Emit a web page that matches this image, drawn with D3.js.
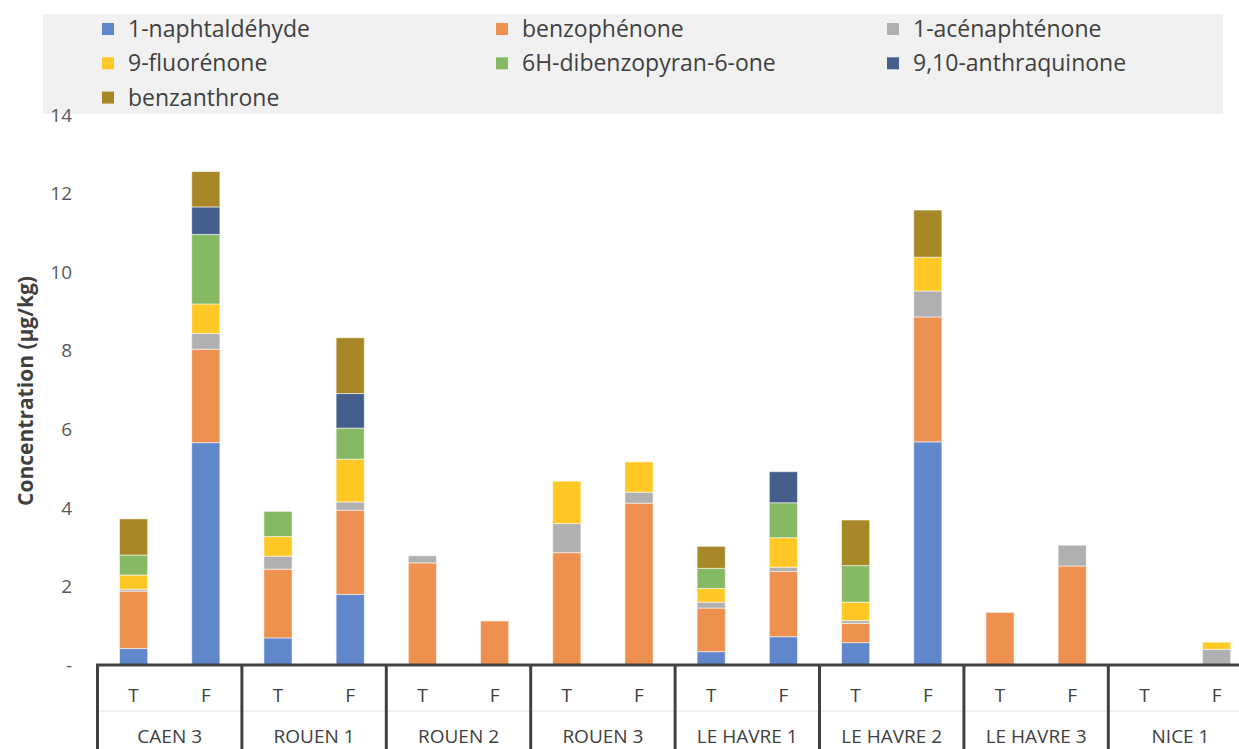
<!DOCTYPE html>
<html><head><meta charset="utf-8">
<script src="https://cdn.jsdelivr.net/npm/d3@7"></script>
<style>body{margin:0;background:#fff}svg{display:block}</style>
</head><body>
<svg id="chart" width="1239" height="749"></svg>
<script>
const groups = ["CAEN 3","ROUEN 1","ROUEN 2","ROUEN 3","LE HAVRE 1","LE HAVRE 2","LE HAVRE 3","NICE 1"];
const types = ["T","F"];
const seriesNames = ["1-naphtaldéhyde","benzophénone","1-acénaphténone","9-fluorénone","6H-dibenzopyran-6-one","9,10-anthraquinone","benzanthrone"];
const colors = ["#6087cc","#ee904f","#b0b0b0","#ffc825","#86b963","#445f8c","#a88726"];
// values in bar order: CAEN3 T, CAEN3 F, ROUEN1 T, ROUEN1 F, ...
const naphtaldehyde   = [0.42,5.66,0.69,1.80,0,0,0,0,0.34,0.72,0.57,5.68,0,0,0,0];
const benzophenone    = [1.46,2.38,1.75,2.14,2.60,1.12,2.86,4.12,1.11,1.66,0.49,3.18,1.34,2.52,0,0];
const acenaphtenone   = [0.05,0.40,0.33,0.21,0.18,0,0.74,0.28,0.15,0.11,0.07,0.66,0,0.53,0,0.40];
const fluorenone      = [0.36,0.75,0.50,1.09,0,0,1.08,0.77,0.35,0.75,0.47,0.86,0,0,0,0.18];
const dibenzopyranone = [0.51,1.77,0.64,0.79,0,0,0,0,0.51,0.89,0.93,0,0,0,0,0];
const anthraquinone   = [0,0.70,0,0.88,0,0,0,0,0,0.79,0,0,0,0,0,0];
const benzanthrone    = [0.92,0.90,0,1.42,0,0,0,0,0.56,0,1.16,1.20,0,0,0,0];
const yTicks = [0,2,4,6,8,10,12,14];
const yTitle = "Concentration (µg/kg)";

const seriesValues = [naphtaldehyde,benzophenone,acenaphtenone,fluorenone,dibenzopyranone,anthraquinone,benzanthrone];
const bars = [];
groups.forEach(g => types.forEach(t => bars.push(g + "|" + t)));
const rows = bars.map((b, i) => {
  const r = {key: b};
  seriesNames.forEach((s, j) => r[s] = seriesValues[j][i]);
  return r;
});
const stacked = d3.stack().keys(seriesNames)(rows);

const svg = d3.select("#chart");
const font = "'Open Sans', 'Noto Sans', sans-serif";
const x0 = 97.5, groupW = 144.4;
const x = d3.scaleBand().domain(bars).range([x0, x0 + groupW * groups.length]).paddingInner(0.61).paddingOuter(0.305);
const xg = d3.scaleBand().domain(groups).range([x0, x0 + groupW * groups.length]);
const y = d3.scaleLinear().domain([0, 14]).range([665, 115]);

// legend background
svg.append("rect").attr("x", 43).attr("y", 14).attr("width", 1180).attr("height", 100).attr("fill", "#f1f1f1");
const leg = svg.append("g");
const legX = [102, 496, 887];
seriesNames.forEach((s, i) => {
  const cx = legX[i % 3], cy = 29 + Math.floor(i / 3) * 34.3;
  leg.append("rect").attr("x", cx).attr("y", cy - 6).attr("width", 12).attr("height", 12).attr("fill", colors[i]);
  leg.append("text").attr("x", cx + 26).attr("y", cy).attr("dy", "0.35em")
    .attr("font-family", font).attr("font-size", 23).attr("fill", "#404040").text(s);
});

// y axis labels
svg.append("g").selectAll("text").data(yTicks).join("text")
  .attr("x", 72).attr("y", d => y(d)).attr("dy", "0.35em").attr("text-anchor", "end")
  .attr("font-family", font).attr("font-size", 19).attr("fill", "#595959")
  .text(d => d === 0 ? "-" : d);
svg.append("text").attr("transform", "translate(33,391) rotate(-90)").attr("text-anchor", "middle")
  .attr("font-family", font).attr("font-size", 21).attr("font-weight", "bold")
  .attr("fill", "#404040").text(yTitle);

// bars
svg.append("g").selectAll("g").data(stacked).join("g")
  .attr("fill", (d, i) => colors[i])
  .selectAll("rect").data(d => d.filter(p => p[1] - p[0] > 0)).join("rect")
  .attr("x", d => x(d.data.key)).attr("width", x.bandwidth())
  .attr("y", d => y(d[1])).attr("height", d => y(d[0]) - y(d[1]))
  .attr("stroke", "#ffffff").attr("stroke-opacity", 0.55).attr("stroke-width", 1);

// x axis
const ax = svg.append("g");
ax.append("line").attr("x1", x0).attr("x2", 1239).attr("y1", 711).attr("y2", 711).attr("stroke", "#e3e3e3").attr("stroke-width", 1);
ax.append("line").attr("x1", x0 - 1.5).attr("x2", 1239).attr("y1", y(0)).attr("y2", y(0)).attr("stroke", "#404040").attr("stroke-width", 3);
groups.forEach((g, i) => {
  const gx = xg(g);
  ax.append("line").attr("x1", gx).attr("x2", gx).attr("y1", y(0)).attr("y2", 749).attr("stroke", "#404040").attr("stroke-width", 3);
  ax.append("text").attr("x", gx + xg.bandwidth() / 2).attr("y", 743).attr("text-anchor", "middle")
    .attr("font-family", font).attr("font-size", 19).attr("fill", "#404040").text(g);
});
ax.append("line").attr("x1", x0 + groupW * groups.length).attr("x2", x0 + groupW * groups.length).attr("y1", y(0)).attr("y2", 749).attr("stroke", "#404040").attr("stroke-width", 3);
ax.selectAll("text.sub").data(bars).join("text").attr("class", "sub")
  .attr("x", d => x(d) + x.bandwidth() / 2).attr("y", 702).attr("text-anchor", "middle")
  .attr("font-family", font).attr("font-size", 19).attr("fill", "#404040").text(d => d.split("|")[1]);
</script>
</body></html>
